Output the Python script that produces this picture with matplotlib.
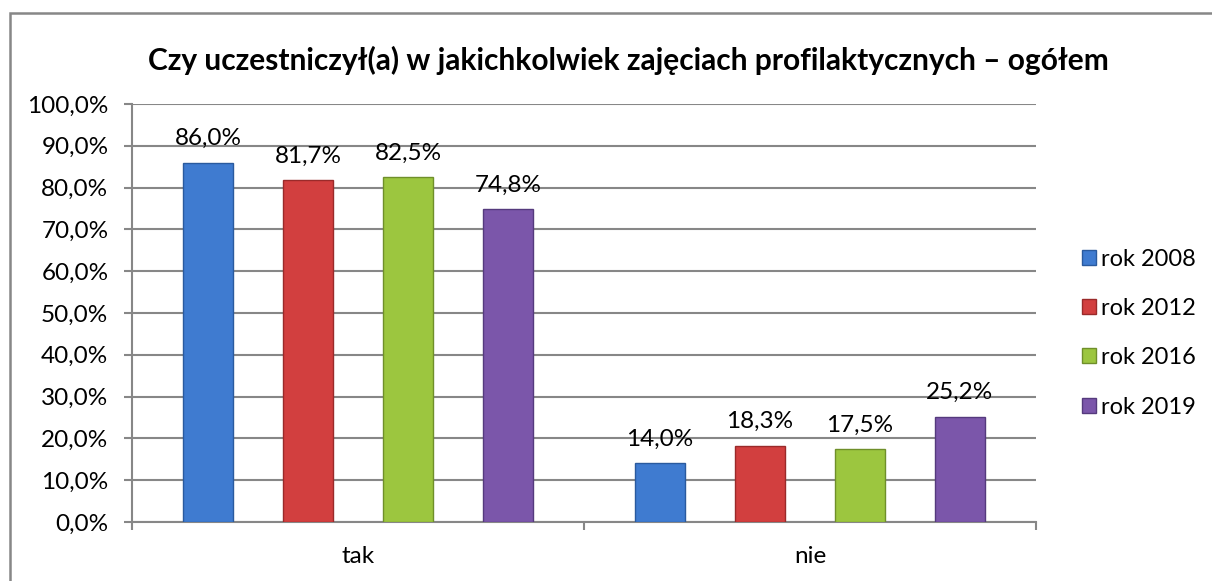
import matplotlib.pyplot as plt
import numpy as np
from matplotlib.patches import Rectangle, Patch

categories = ['tak', 'nie']
years = ['rok 2008', 'rok 2012', 'rok 2016', 'rok 2019']
values = {
    'rok 2008': [86.0, 14.0],
    'rok 2012': [81.7, 18.3],
    'rok 2016': [82.5, 17.5],
    'rok 2019': [74.8, 25.2],
}
colors = ['#3f7bd0', '#d23f3f', '#9cc63f', '#7b56aa']
edges = ['#2a5a9e', '#9a2a2a', '#6f8f2a', '#553a7d']

plt.rcParams['font.family'] = ['Lato', 'DejaVu Sans']
grid_c = '#878787'

fig = plt.figure(figsize=(12.12, 5.81), dpi=100)
fig.patches.append(Rectangle((10 / 1212, -0.1), 1.2, 1 - 13 / 581 + 0.1,
                             transform=fig.transFigure, fill=False,
                             edgecolor=grid_c, linewidth=1.8))
ax = fig.add_axes([132 / 1212, 1 - 522 / 581, (1036 - 132) / 1212, (522 - 104) / 581])

x = np.arange(len(categories))
w = 0.1106
step = 0.2212
for i, yr in enumerate(years):
    pos = x + (i - 1.5) * step
    bars = ax.bar(pos, values[yr], width=w, color=colors[i], edgecolor=edges[i],
                  linewidth=1.0, zorder=3, label=yr)
    for b, v in zip(bars, values[yr]):
        ax.text(b.get_x() + w / 2, v + 3.2, f'{v:.1f}%'.replace('.', ','),
                ha='center', va='bottom', fontsize=17.5)

ax.set_ylim(0, 100)
ax.set_xlim(-0.5, 1.5)
ax.set_yticks(np.arange(0, 101, 10))
ax.set_yticklabels([f'{t:.1f}%'.replace('.', ',') for t in np.arange(0, 101, 10)], fontsize=17.5)
ax.yaxis.grid(True, color=grid_c, linewidth=1.5, zorder=0)
ax.set_xticks([-0.5, 0.5, 1.5])
ax.set_xticklabels([])
ax.set_xticks(x, minor=True)
ax.set_xticklabels(categories, minor=True, fontsize=17.5)
ax.tick_params(axis='x', which='minor', length=0, pad=17)
ax.tick_params(axis='both', which='major', length=6, width=1.5, color=grid_c)
ax.tick_params(axis='y', pad=11)
for s in ['top', 'right']:
    ax.spines[s].set_visible(False)
for s in ['left', 'bottom']:
    ax.spines[s].set_color(grid_c)
    ax.spines[s].set_linewidth(1.5)

handles = [Patch(facecolor=colors[i], edgecolor=edges[i], label=yr) for i, yr in enumerate(years)]
fig.legend(handles=handles, loc='center left', bbox_to_anchor=(1061 / 1212, 1 - 333 / 581),
           frameon=False, fontsize=17, handlelength=0.6, handleheight=0.6,
           handletextpad=0.2, labelspacing=1.2)

fig.text(628 / 1212, 1 - 60 / 581,
         'Czy uczestniczył(a) w jakichkolwiek zajęciach profilaktycznych – ogółem',
         ha='center', va='center', fontsize=21.5, fontweight='bold')

fig.savefig('out.png', dpi=100)
